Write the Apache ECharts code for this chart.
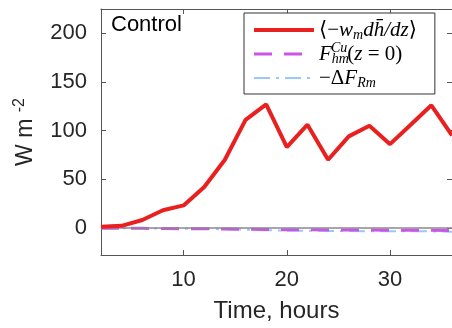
<!DOCTYPE html>
<html>
<head>
<meta charset="utf-8">
<script src="https://cdn.jsdelivr.net/npm/echarts@6/dist/echarts.min.js"></script>
<style>
	html, body { margin: 0; padding: 0; background: #fff; }
	#chart { width: 452px; height: 328px; }
</style>
</head>
<body>
<div id="chart"></div>
<script>
	// values
	var hours     = [2, 4, 6, 8, 10, 12, 14, 16, 18, 20, 22, 24, 26, 28, 30, 32, 34, 36];
	var advection = [1, 2, 8, 18, 23, 42, 70, 111, 127, 83, 106, 70, 94, 105, 86, 106, 126, 95];
	var cuFlux    = [-0.5, -0.5, -0.6, -0.8, -1, -1, -1.2, -1.5, -1.8, -2, -2, -2.2, -2.3, -2.4, -2.5, -2.5, -2.6, -2.7];
	var radFlux   = [-0.3, -0.5, -0.6, -0.8, -1, -1.2, -1.5, -2, -2.5, -3, -3, -3.2, -3.3, -3.5, -3.5, -3.6, -3.7, -4];
	var yTicks    = [0, 50, 100, 150, 200];
	var xTicks    = [10, 20, 30];

	var names = ['adv', 'cu', 'rad'];
	var legendText = {
		adv: '{r|\u27e8\u2212}{i|w}{sub|m}{i|d}{i|h\u0304}{i|/dz}{r|\u27e9}',
		cu:  '{i|F}{sub|hm}{supx|Cu}{r|(}{i|z}{r| = 0)}',
		rad: '{r|\u2212\u0394}{i|F}{sub|Rm}'
	};

	function pairs(vals) {
		return hours.map(function (h, i) { return [h, vals[i]]; });
	}

	var AX = '#555';
	var TXT = '#262626';
	var SERIF = "'Liberation Serif', 'DejaVu Serif', serif";
	var SANS = "'Liberation Sans', Arial, sans-serif";

	var chart = echarts.init(document.getElementById('chart'), null, { renderer: 'canvas' });

	function boxAxis(pos, ticks, extra) {
		var a = {
			type: 'value', position: pos,
			axisLine: { show: true, onZero: false, lineStyle: { color: AX, width: 1 } },
			axisTick: { show: true, inside: true, length: 5, customValues: ticks, lineStyle: { color: AX } },
			axisLabel: { show: false },
			splitLine: { show: false }
		};
		for (var k in extra) a[k] = extra[k];
		return a;
	}

	chart.setOption({
		animation: false,
		backgroundColor: '#fff',
		title: {
			text: 'Control', left: 106, top: 9,
			textStyle: { fontFamily: SANS, fontSize: 22, fontWeight: 'normal', color: '#000' }
		},
		grid: { left: 101, right: -2, top: 9, bottom: 73 },
		legend: {
			orient: 'vertical', left: 244, top: 13,
			data: [
				{ name: 'adv', lineStyle: { width: 4 } },
				{ name: 'cu', lineStyle: { width: 3 } },
				{ name: 'rad', lineStyle: { width: 2 } }
			],
			backgroundColor: '#fff', borderColor: '#333', borderWidth: 1, borderRadius: 0,
			padding: [5, 18, 4, 8], itemGap: -1, itemWidth: 60, itemHeight: 14,
			itemStyle: { opacity: 0 },
			formatter: function (n) { return legendText[n]; },
			textStyle: {
				color: '#000',
				rich: {
					r:    { fontFamily: SERIF, fontSize: 21, lineHeight: 21 },
					i:    { fontFamily: SERIF, fontSize: 21, fontStyle: 'italic', lineHeight: 21 },
					sub:  { fontFamily: SERIF, fontSize: 14, fontStyle: 'italic', lineHeight: 21, padding: [10, 0, 0, 0] },
					supx: { fontFamily: SERIF, fontSize: 14, fontStyle: 'italic', lineHeight: 21, padding: [0, 0, 12, -18] }
				}
			}
		},
		xAxis: [
			boxAxis('bottom', xTicks, {
				min: 2, max: 36,
				name: 'Time, hours', nameLocation: 'middle', nameGap: 44,
				nameTextStyle: { fontFamily: SANS, fontSize: 24, color: TXT },
				axisLabel: { customValues: xTicks, margin: 14, fontFamily: SANS, fontSize: 22, color: TXT }
			}),
			boxAxis('top', xTicks, { min: 2, max: 36 })
		],
		yAxis: [
			boxAxis('left', yTicks, {
				min: -28, max: 225,
				name: '{a|W m }{b|-2}', nameLocation: 'middle', nameGap: 56, nameRotate: 90,
				nameTextStyle: {
					color: TXT,
					rich: {
						a: { fontFamily: SANS, fontSize: 23, color: TXT, lineHeight: 26 },
						b: { fontFamily: SANS, fontSize: 16, color: TXT, lineHeight: 26, padding: [0, 0, 12, 0] }
					}
				},
				axisLabel: { customValues: yTicks, margin: 14, fontFamily: SANS, fontSize: 22, color: TXT }
			}),
			boxAxis('right', yTicks, { min: -28, max: 225 })
		],
		series: [
			{
				name: 'adv', type: 'line', symbol: 'none', data: pairs(advection), z: 5,
				lineStyle: { color: '#e8201f', width: 4 }, itemStyle: { color: '#e8201f' },
				markLine: {
					silent: true, symbol: 'none', label: { show: false },
					lineStyle: { color: '#8a8a8a', type: 'solid', width: 1.5 },
					data: [{ yAxis: 0 }]
				}
			},
			{
				name: 'cu', type: 'line', symbol: 'none', data: pairs(cuFlux), z: 4,
				lineStyle: { color: '#cc55e8', width: 3, type: [18, 12] }, itemStyle: { color: '#cc55e8' }
			},
			{
				name: 'rad', type: 'line', symbol: 'none', data: pairs(radFlux), z: 3,
				lineStyle: { color: '#99c8ff', width: 2, type: [16, 6, 3, 6] }, itemStyle: { color: '#99c8ff' }
			}
		]
	});
</script>
</body>
</html>
